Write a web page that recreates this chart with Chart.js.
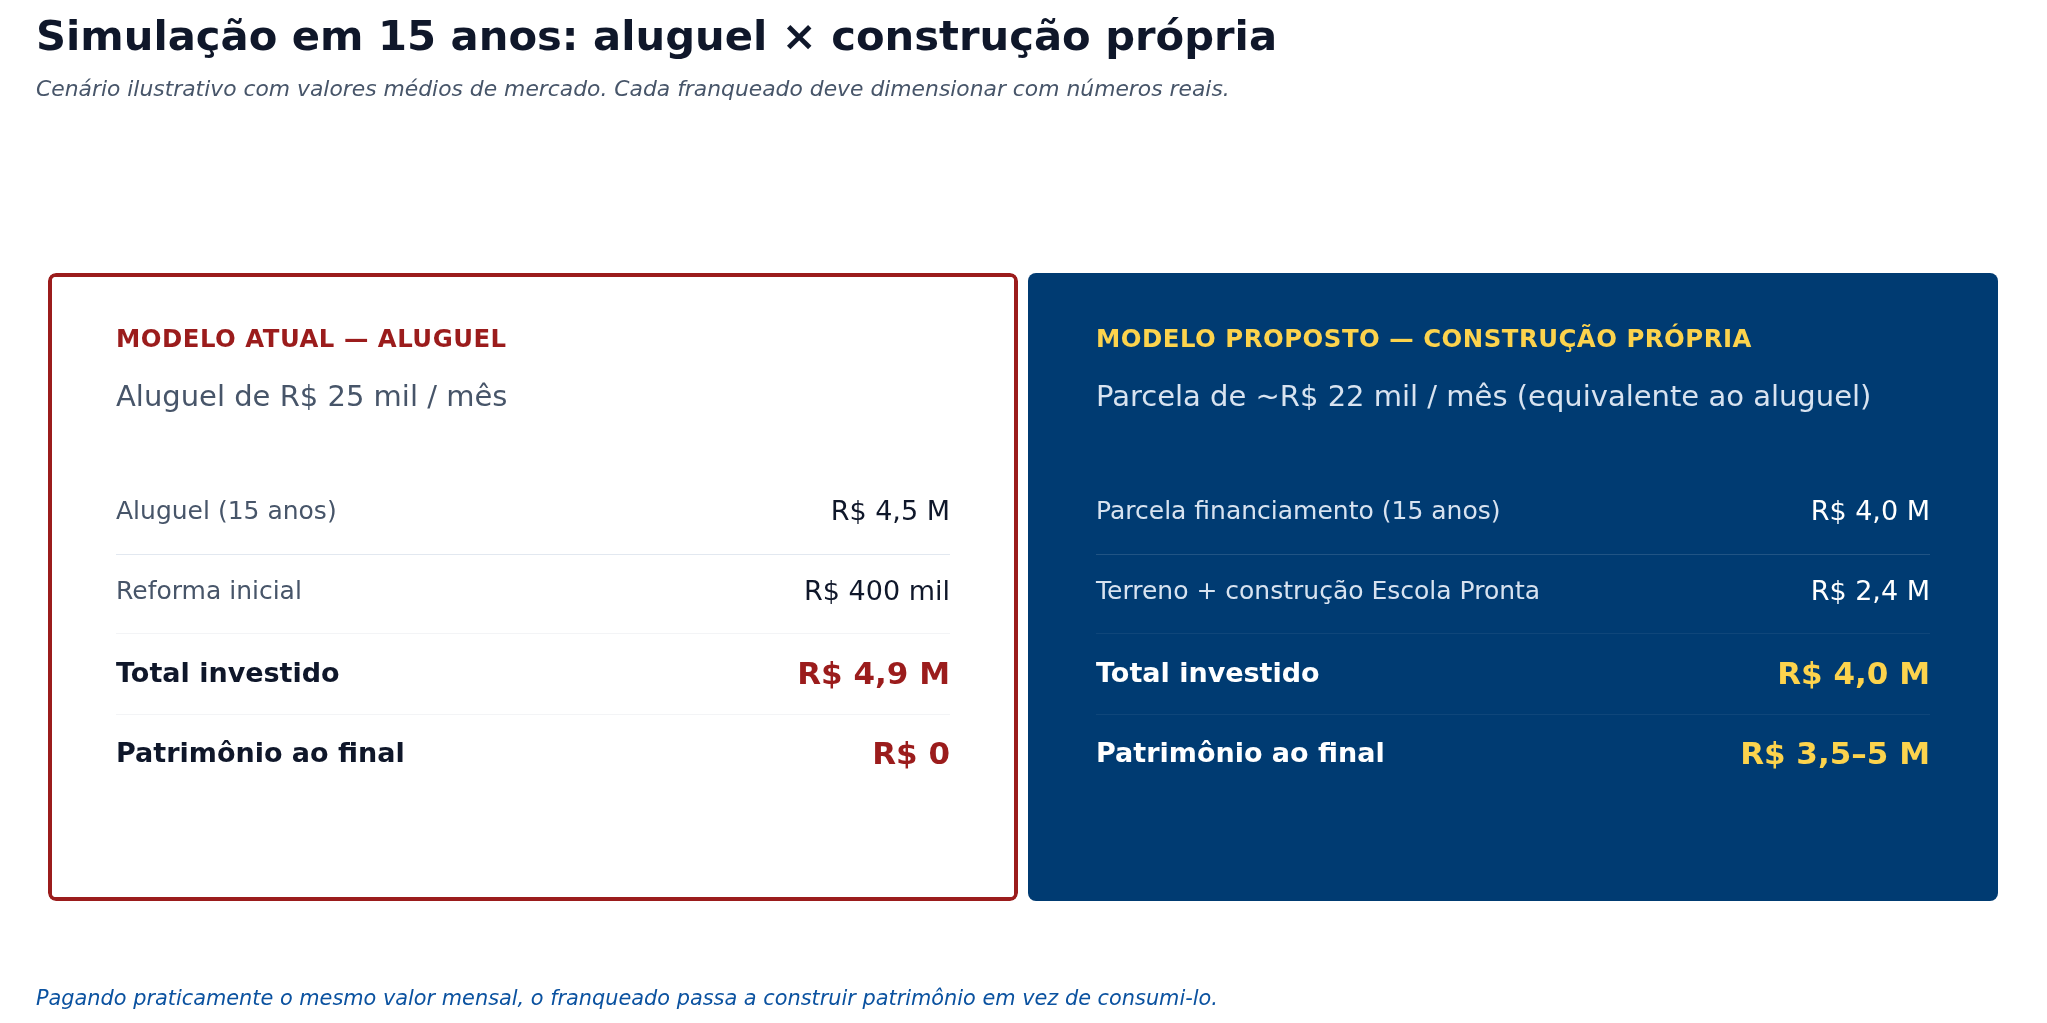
<!DOCTYPE html>
<html lang="pt-BR">
<head>
<meta charset="utf-8">
<title>Simulação em 15 anos: aluguel × construção própria</title>
<script src="https://cdn.jsdelivr.net/npm/chart.js@4.4.1/dist/chart.umd.min.js"></script>
<style>
    html, body { margin: 0; padding: 0; background: #ffffff; }
    #wrap { width: 2047px; height: 1023px; position: relative; }
</style>
</head>
<body>
<div id="wrap"><canvas id="simChart"></canvas></div>
<script>
// Textos e valores da simulação
const chartTitle = 'Simulação em 15 anos: aluguel × construção própria';
const chartSubtitle = 'Cenário ilustrativo com valores médios de mercado. Cada franqueado deve dimensionar com números reais.';
const chartNote = 'Pagando praticamente o mesmo valor mensal, o franqueado passa a construir patrimônio em vez de consumi-lo.';

const models = ['MODELO ATUAL — ALUGUEL', 'MODELO PROPOSTO — CONSTRUÇÃO PRÓPRIA'];
const monthlyCost = ['Aluguel de R$ 25 mil / mês', 'Parcela de ~R$ 22 mil / mês (equivalente ao aluguel)'];

const rentLabels = ['Aluguel (15 anos)', 'Reforma inicial', 'Total investido', 'Patrimônio ao final'];
const rentValues = ['R$ 4,5 M', 'R$ 400 mil', 'R$ 4,9 M', 'R$ 0'];

const ownLabels = ['Parcela financiamento (15 anos)', 'Terreno + construção Escola Pronta', 'Total investido', 'Patrimônio ao final'];
const ownValues = ['R$ 4,0 M', 'R$ 2,4 M', 'R$ 4,0 M', 'R$ 3,5–5 M'];

// cada cartão ocupa o painel inteiro
const panelHeight = [1, 1];

const FONT = "'DejaVu Sans', 'Noto Sans', sans-serif";

// Paleta de cada cartão
const cardTheme = [
    { head: '#9b1c1c', sub: '#475569', label: '#475569', value: '#0f172a', strong: '#0f172a', strongValue: '#9b1c1c',
      lines: ['#e2e8f0', '#f3f4f6', '#f3f4f6'] },
    { head: '#fcd34d', sub: '#d8e3f0', label: '#d8e3f0', value: '#ffffff', strong: '#ffffff', strongValue: '#fcd34d',
      lines: ['rgba(255,255,255,0.13)', 'rgba(255,255,255,0.06)', 'rgba(255,255,255,0.06)'] }
];

// posição vertical (linha de base) de cada linha, relativa ao topo do cartão
const rowBase = [246, 326, 409, 489];
const ruleY = [281, 360, 441];

/**
 * Textos de página (título, subtítulo e nota de rodapé)
 */
const pageText = {
    id: 'pageText',
    afterDraw(chart) {
        const ctx = chart.ctx;
        ctx.save();
        ctx.textAlign = 'left';
        ctx.textBaseline = 'alphabetic';

        ctx.fillStyle = '#0f172a';
        ctx.font = `bold 41.7px ${FONT}`;
        ctx.fillText(chartTitle, 36, 50);

        ctx.fillStyle = '#475569';
        ctx.font = `oblique 21.85px ${FONT}`;
        ctx.fillText(chartSubtitle, 36, 96);

        ctx.fillStyle = '#0b52a0';
        ctx.font = `oblique 20.85px ${FONT}`;
        ctx.fillText(chartNote, 36, 1005);
        ctx.restore();
    }
};

/**
 * Conteúdo dos cartões, posicionado a partir de cada barra
 */
const cardText = {
    id: 'cardText',
    afterDatasetsDraw(chart) {
        const ctx = chart.ctx;
        const meta = chart.getDatasetMeta(0);
        const rows = [[rentLabels, rentValues], [ownLabels, ownValues]];

        meta.data.forEach((bar, i) => {
            const { x, y, width } = bar.getProps(['x', 'y', 'width'], true);
            const t = cardTheme[i];
            const left = x - width / 2 + 68;
            const right = x + width / 2 - 68;
            const top = y;
            const [labels, values] = rows[i];

            ctx.save();
            ctx.textBaseline = 'alphabetic';
            ctx.textAlign = 'left';

            ctx.fillStyle = t.head;
            ctx.font = `bold 24.4px ${FONT}`;
            ctx.letterSpacing = '0.5px';
            ctx.fillText(models[i], left, top + 74);
            ctx.letterSpacing = '0px';

            ctx.fillStyle = t.sub;
            ctx.font = `29px ${FONT}`;
            ctx.fillText(monthlyCost[i], left, top + 133);

            // linhas divisórias
            t.lines.forEach((c, k) => {
                const ly = Math.round(top + ruleY[k]) + 0.5;
                ctx.strokeStyle = c;
                ctx.lineWidth = 1;
                ctx.beginPath();
                ctx.moveTo(left, ly);
                ctx.lineTo(right, ly);
                ctx.stroke();
            });

            labels.forEach((lab, r) => {
                const by = top + rowBase[r];
                const strong = r >= 2;
                ctx.textAlign = 'left';
                ctx.fillStyle = strong ? t.strong : t.label;
                ctx.font = strong ? `bold 27px ${FONT}` : `25px ${FONT}`;
                ctx.fillText(lab, left, by);

                ctx.textAlign = 'right';
                ctx.fillStyle = strong ? t.strongValue : t.value;
                ctx.font = strong ? `bold 31px ${FONT}` : `27px ${FONT}`;
                ctx.fillText(values[r], right, by + (strong ? 1.5 : 0.5));
            });
            ctx.restore();
        });
    }
};

new Chart(document.getElementById('simChart'), {
    type: 'bar',
    data: {
        labels: models,
        datasets: [{
            data: panelHeight,
            backgroundColor: ['#ffffff', '#003b72'],
            borderColor: ['#9b1c1c', '#003b72'],
            borderWidth: [4, 0],
            borderRadius: 8,
            borderSkipped: false,
            inflateAmount: 0,
            categoryPercentage: 1,
            barPercentage: 970 / 980
        }]
    },
    options: {
        responsive: true,
        maintainAspectRatio: false,
        animation: false,
        events: [],
        layout: { padding: { top: 273, bottom: 122, left: 43, right: 44 } },
        scales: {
            x: { display: false },
            y: { display: false, min: 0, max: 1 }
        },
        plugins: {
            legend: { display: false },
            tooltip: { enabled: false },
            title: { display: false }
        }
    },
    plugins: [cardText, pageText]
});
</script>
</body>
</html>
